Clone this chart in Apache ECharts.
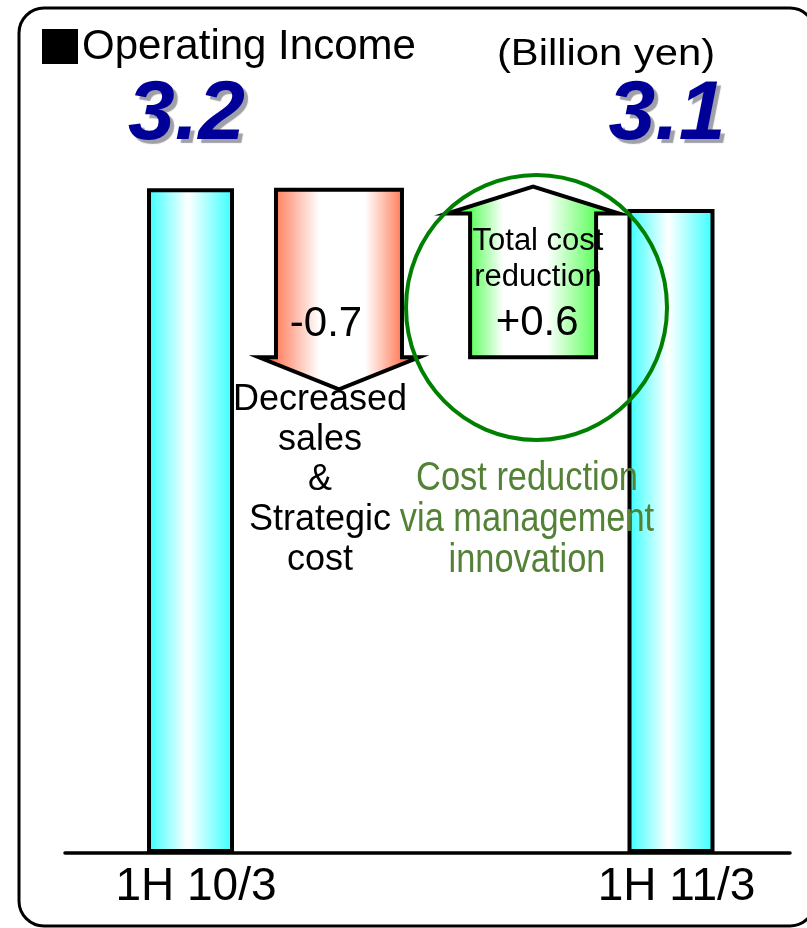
<!DOCTYPE html>
<html><head><meta charset="utf-8">
<script src="https://cdn.jsdelivr.net/npm/echarts@6/dist/echarts.min.js"></script>
<style>html,body{margin:0;padding:0;background:#fff}#c{width:807px;height:928px}</style>
</head><body><div id="c"></div>
<script>
// ---- data ----
const categories = ['1H 10/3', '1H 11/3'];
const operatingIncome = [3.2, 3.1];            // Billion yen
const changes = [-0.7, 0.6];                   // bridge steps
const changeNotes = ['Decreased\nsales\n&\nStrategic\ncost', 'Total cost\nreduction'];
const costNote = 'Cost reduction\nvia management\ninnovation';
const titleText = 'Operating Income';
const unitText = '(Billion yen)';

const FONT = "'Liberation Sans', Arial, sans-serif";

// bridge arrows: [x, start, end, delta]
let level = operatingIncome[0];
const arrowData = changes.map(d => {
  const s = level;
  level = +(level + d).toFixed(2);
  return [0, s, level, d];
});

// layout constants
const ARROW_FRAC = [0.309, 0.713];

function grad(edge, stops) {
  return new echarts.graphic.LinearGradient(0, 0, 1, 0,
    stops.map(s => ({ offset: s[0], color: s[1] === 'E' ? edge : s[1] })));
}

function renderArrow(params, api) {
  const i = params.dataIndex;
  const s = api.value(1), e = api.value(2), d = api.value(3);
  const pA = api.coord([0, s]), pB = api.coord([1, s]);
  const cx = pA[0] + ARROW_FRAC[i] * (pB[0] - pA[0]);
  const yS = pA[1], yE = api.coord([0, e])[1];
  const up = e > s;
  const bw = 63, ww = up ? 86 : 80, hl = up ? 27 : 32;
  const tip = up ? yE - hl : yE + hl;
  const pts = [[cx - bw, yS], [cx + bw, yS], [cx + bw, yE], [cx + ww, yE], [cx, tip], [cx - ww, yE], [cx - bw, yE]];
  const fill = up
    ? grad('#5CFF5C', [[0, 'E'], [0.14, 'E'], [0.33, '#FFFFFF'], [0.58, '#FFFFFF'], [0.86, 'E'], [1, 'E']])
    : grad('#FF7A58', [[0, 'E'], [0.1, 'E'], [0.38, '#FFFFFF'], [0.66, '#FFFFFF'], [0.89, 'E'], [1, 'E']]);
  const txt = (d > 0 ? '+' : '') + d.toFixed(1);
  return {
    type: 'group',
    children: [
      { type: 'polygon', shape: { points: pts }, style: { fill: fill, stroke: '#000', lineWidth: 4, lineJoin: 'miter' } },
      { type: 'text', x: up ? cx + 4 : cx - 13, y: up ? yE + 110 : yS + 135,
        style: { text: txt, fontSize: 42, fontFamily: FONT, fill: '#000', align: 'center', verticalAlign: 'middle' } }
    ]
  };
}

const chart = echarts.init(document.getElementById('c'), null, { renderer: 'canvas' });
chart.setOption({
  animation: false,
  backgroundColor: '#fff',
  grid: [
    { left: 190.5, right: 136, top: 22, bottom: 75 },
    { left: 65, right: 17, top: 22, bottom: 75 }
  ],
  xAxis: [
    { type: 'category', gridIndex: 0, data: categories, boundaryGap: false,
      axisLine: { show: false }, axisTick: { show: false }, splitLine: { show: false },
      axisLabel: { fontSize: 46, color: '#000', fontFamily: FONT, margin: 11, padding: [0, 0, 0, 11] } },
    { type: 'value', gridIndex: 1, min: 0, max: 1,
      axisLine: { show: true, onZero: false, lineStyle: { color: '#000', width: 3.5 } },
      axisTick: { show: false }, axisLabel: { show: false }, splitLine: { show: false } }
  ],
  yAxis: [
    { type: 'value', gridIndex: 0, min: 0, max: 4, show: false },
    { type: 'value', gridIndex: 0, min: 0.43, max: 3.9, show: false },
    { type: 'value', gridIndex: 1, min: 0, max: 1, show: false }
  ],
  series: [
    {
      type: 'bar', xAxisIndex: 0, yAxisIndex: 0, data: operatingIncome, barWidth: 87, clip: false, silent: true, z: 2,
      itemStyle: {
        color: grad('#33FFFF', [[0, 'E'], [0.47, '#FFFFFF'], [1, 'E']]),
        borderColor: '#000', borderWidth: 4
      },
      label: {
        show: true, formatter: p => p.value.toFixed(1),
        fontSize: 84, fontWeight: 'bold', fontStyle: 'italic', fontFamily: FONT, color: '#000099',
        textShadowColor: 'rgba(150,150,160,0.9)', textShadowOffsetX: 4, textShadowOffsetY: 4, textShadowBlur: 1
      },
      labelLayout: p => ({ x: p.rect.x + p.rect.width / 2 - 4, y: 116, align: 'center', verticalAlign: 'middle' })
    },
    {
      type: 'custom', xAxisIndex: 0, yAxisIndex: 1, data: arrowData, renderItem: renderArrow,
      encode: { x: 0, y: [1, 2] }, clip: false, silent: true, z: 5
    }
  ],
  graphic: [
    { type: 'rect', z: 100, silent: true, shape: { x: 19, y: 8, width: 796, height: 918, r: 25 },
      style: { fill: 'none', stroke: '#000', lineWidth: 3 } },
    { type: 'rect', z: 100, silent: true, shape: { x: 42, y: 29, width: 36, height: 35 }, style: { fill: '#000' } },
    { type: 'text', z: 100, silent: true, x: 82, y: 47.5,
      style: { text: titleText, fontSize: 42, fontFamily: FONT, fill: '#000', align: 'left', verticalAlign: 'middle' } },
    { type: 'text', z: 100, silent: true, x: 606, y: 55.5, scaleX: 1.16,
      style: { text: unitText, fontSize: 36, fontFamily: FONT, fill: '#000', align: 'center', verticalAlign: 'middle' } },
    { type: 'ellipse', z: 100, silent: true, shape: { cx: 536.5, cy: 307.5, rx: 130.5, ry: 132.5 },
      style: { fill: 'none', stroke: '#008000', lineWidth: 4 } },
    { type: 'text', z: 100, silent: true, x: 538, y: 259,
      style: { text: changeNotes[1], fontSize: 31, lineHeight: 36, fontFamily: FONT, fill: '#000', align: 'center', verticalAlign: 'middle' } },
    { type: 'text', z: 100, silent: true, x: 320, y: 480,
      style: { text: changeNotes[0], fontSize: 36, lineHeight: 40, fontFamily: FONT, fill: '#000', align: 'center', verticalAlign: 'middle' } },
    { type: 'text', z: 100, silent: true, x: 527, y: 520, scaleX: 0.86,
      style: { text: costNote, fontSize: 40, lineHeight: 41, fontFamily: FONT, fill: '#538135', align: 'center', verticalAlign: 'middle' } }
  ]
});
</script>
</body></html>
